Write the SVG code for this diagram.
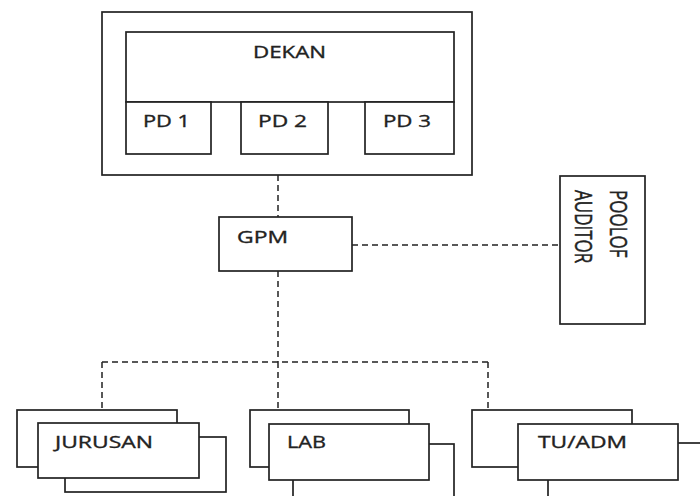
<svg xmlns="http://www.w3.org/2000/svg" width="700" height="496" viewBox="0 0 700 496">
<style>
.box{fill:#fff;stroke:#222;stroke-width:1.7}
.dash{fill:none;stroke:#222;stroke-width:1.5;stroke-dasharray:6,4}
text{font-family:"Open Sans","DejaVu Sans",sans-serif;font-size:16.5px;fill:#222;stroke:#222;stroke-width:0.35}
.v{font-size:17px}
</style>
<rect width="700" height="496" fill="#fff"/>
<g id="connectors">
<line class="dash" x1="278" y1="175" x2="278" y2="217"/>
<line class="dash" x1="278" y1="271" x2="278" y2="362"/>
<line class="dash" x1="352" y1="245" x2="560" y2="245"/>
<line class="dash" x1="102" y1="362" x2="488" y2="362"/>
<line class="dash" x1="102" y1="362" x2="102" y2="410"/>
<line class="dash" x1="278" y1="362" x2="278" y2="410"/>
<line class="dash" x1="488" y1="362" x2="488" y2="410"/>
</g>
<g id="pimpinan">
<rect class="box" x="102" y="12" width="370" height="163"/>
<g id="dekan"><rect class="box" x="126" y="32" width="328" height="70"/>
<text x="253" y="58" textLength="73" lengthAdjust="spacingAndGlyphs">DEKAN</text></g>
<g id="pd1"><rect class="box" x="126" y="102" width="85" height="52"/>
<text x="143" y="127" textLength="47" lengthAdjust="spacingAndGlyphs">PD 1</text></g>
<g id="pd2"><rect class="box" x="241" y="102" width="87" height="52"/>
<text x="258" y="127" textLength="49" lengthAdjust="spacingAndGlyphs">PD 2</text></g>
<g id="pd3"><rect class="box" x="365" y="102" width="89" height="52"/>
<text x="383" y="127" textLength="48" lengthAdjust="spacingAndGlyphs">PD 3</text></g>
</g>
<g id="gpm">
<rect class="box" x="219" y="217" width="133" height="54"/>
<text x="237" y="243" textLength="51" lengthAdjust="spacingAndGlyphs">GPM</text>
</g>
<g id="poolof-auditor">
<rect class="box" x="560" y="176" width="85" height="148"/>
<text class="v" transform="translate(610,190) scale(1.4,1) rotate(90)">POOLOF</text>
<text class="v" transform="translate(575,190) scale(1.4,1) rotate(90)">AUDITOR</text>
</g>
<g id="jurusan">
<rect class="box" x="17" y="410" width="160" height="57"/>
<rect class="box" x="65" y="437" width="161" height="55"/>
<rect class="box" x="38" y="423" width="161" height="55"/>
<text x="55" y="448" textLength="98" lengthAdjust="spacingAndGlyphs">JURUSAN</text>
</g>
<g id="lab">
<rect class="box" x="250" y="410" width="159" height="57"/>
<rect class="box" x="293" y="444" width="161" height="70"/>
<rect class="box" x="269" y="424" width="160" height="56"/>
<text x="287" y="448" textLength="39" lengthAdjust="spacingAndGlyphs">LAB</text>
</g>
<g id="tu-adm">
<rect class="box" x="472" y="410" width="160" height="57"/>
<rect class="box" x="548" y="443" width="170" height="70"/>
<rect class="box" x="518" y="424" width="160" height="56"/>
<text x="538" y="448" textLength="89" lengthAdjust="spacingAndGlyphs">TU/ADM</text>
</g>
</svg>
